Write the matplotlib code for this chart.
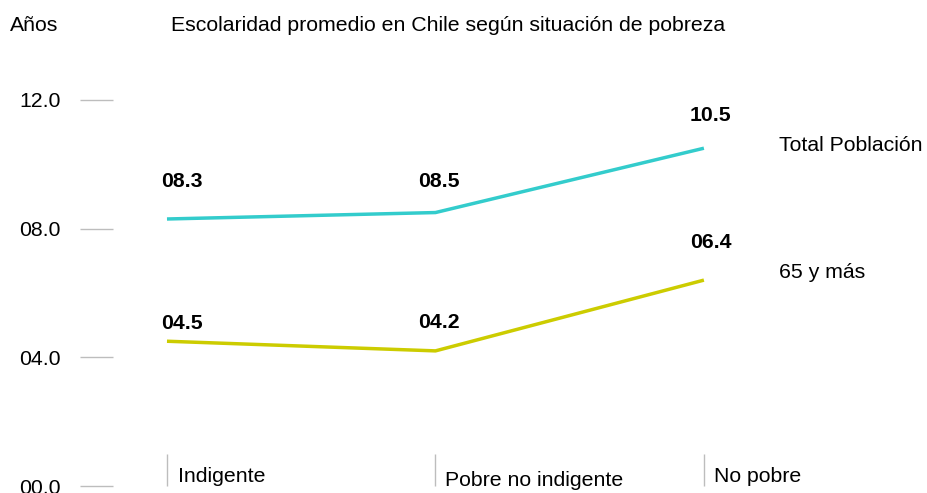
import matplotlib
matplotlib.use("Agg")
import matplotlib.pyplot as plt

plt.rcParams['font.family'] = ['Liberation Sans', 'DejaVu Sans']

# ---- data ----
categories = ["Indigente", "Pobre no indigente", "No pobre"]
series_names = ["Total Población", "65 y más"]
total_values = [8.3, 8.5, 10.5]
mayores_values = [4.5, 4.2, 6.4]
total_labels = ["08.3", "08.5", "10.5"]
mayores_labels = ["04.5", "04.2", "06.4"]
y_ticks = [0, 4, 8, 12]
y_tick_labels = ["00.0", "04.0", "08.0", "12.0"]
title = "Escolaridad promedio en Chile según situación de pobreza"
y_unit = "Años"

# ---- style ----
W, H, DPI = 927, 493, 100
FS = 15.3
colors = ["#33CCCC", "#CCCC00"]
grey = "#BDBDBD"
txt = "#000000"
label_dx = [15, 3, 7]                 # px
label_dy = [[37, 31, 33], [18, 28, 38]]  # px
name_dy = [3, 8]
cat_dx = [11, 10, 10]
cat_dy = [4, 0, 4]

fig = plt.figure(figsize=(W / DPI, H / DPI), dpi=DPI)
left, bottom = 80 / W, 7 / H
ax = fig.add_axes([left, bottom, 1 - left, 1 - bottom])
ax.set_xlim(-0.324, 2.831)
ax.set_ylim(0, 486 / 32.17)
for s in ax.spines.values():
    s.set_visible(False)

x = list(range(len(categories)))
series = [total_values, mayores_values]
labels = [total_labels, mayores_labels]
for i, vals in enumerate(series):
    ax.plot(x, vals, color=colors[i], lw=2.5, solid_capstyle='butt', clip_on=False)
    for j, (v, t) in enumerate(zip(vals, labels[i])):
        ax.annotate(t, (x[j], v), xytext=(label_dx[j], label_dy[i][j]),
                    textcoords='offset pixels', ha='center', va='center',
                    fontsize=FS, fontweight='bold', color=txt)
    ax.annotate(series_names[i], (x[-1], vals[-1]), xytext=(75, name_dy[i]),
                textcoords='offset pixels', ha='left', va='center',
                fontsize=FS, color=txt)

ax.set_yticks(y_ticks)
ax.set_yticklabels(y_tick_labels)
ax.tick_params(axis='y', direction='in', length=33 * 0.72, width=1, color=grey,
               pad=19 * 0.72, labelsize=FS, labelcolor=txt)
ax.set_xticks(x)
ax.tick_params(axis='x', direction='in', length=32 * 0.72, width=1, color=grey,
               labelbottom=False)
for j, c in enumerate(categories):
    ax.annotate(c, (x[j], 0), xytext=(cat_dx[j], cat_dy[j]),
                textcoords='offset pixels', ha='left', va='baseline',
                fontsize=FS, color=txt, annotation_clip=False)

fig.text(171 / W, (H - 31) / H, title, fontsize=FS, va='baseline', ha='left', color=txt)
fig.text(10 / W, (H - 31) / H, y_unit, fontsize=FS, va='baseline', ha='left', color=txt)

fig.savefig("out.png", dpi=DPI)
